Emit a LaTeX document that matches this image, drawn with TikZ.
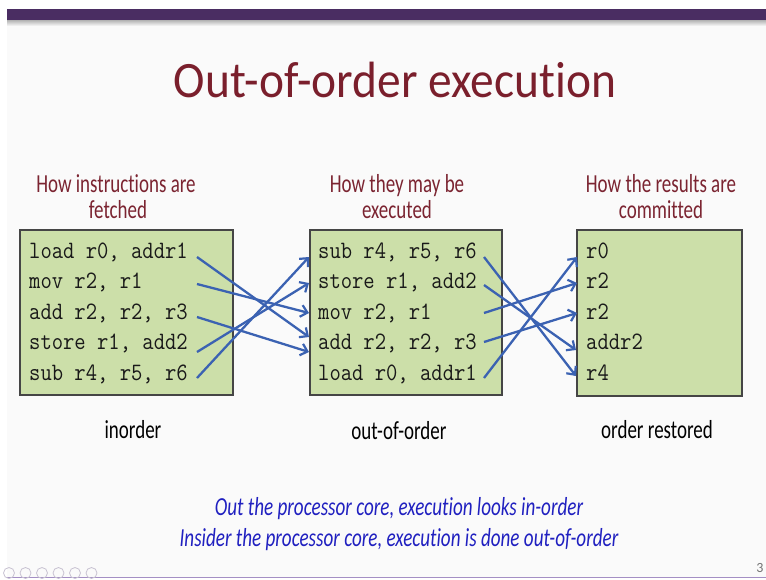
\documentclass[tikz,border=0pt]{standalone}
\usepackage{fontspec}
\setmainfont{Carlito}[RawFeature=-liga, RawFeature=-clig, RawFeature=-calt, RawFeature=-dlig]
\usetikzlibrary{arrows.meta}
\definecolor{barpurple}{HTML}{4A2D62}
\definecolor{slidebg}{HTML}{FAFAFA}
\definecolor{titlered}{HTML}{7A1F2C}
\definecolor{headred}{HTML}{7B2431}
\definecolor{boxgreen}{HTML}{CCDFA9}
\definecolor{boxline}{HTML}{454545}
\definecolor{arrowblue}{HTML}{3B62B2}
\definecolor{noteblue}{HTML}{2020C0}
\definecolor{footline}{HTML}{A48FC4}
\definecolor{navgray}{HTML}{C8C2D2}
\tikzset{
  titletext/.style={text=titlered, font=\fontsize{51}{60}\selectfont, xscale=0.93, inner sep=0, anchor=base},
  headtext/.style={text=headred, font=\fontsize{26}{30}\selectfont, xscale=0.73, inner sep=0, anchor=base},
  labeltext/.style={text=black, font=\fontsize{26}{30}\selectfont, xscale=0.73, inner sep=0, anchor=base},
  notetext/.style={text=noteblue, font=\fontsize{26}{30}\selectfont\itshape, xscale=0.735, inner sep=0, anchor=base},
  codetext/.style={text=black!90, font=\ttfamily\fontsize{25}{28}\selectfont, xscale=0.88, inner sep=0, anchor=base west},
  codebox/.style={draw=boxline, fill=boxgreen, line width=1.1pt},
  flow/.style={draw=arrowblue, line width=2.3pt, -{Straight Barb[length=6.5pt,width=12pt,line width=2.2pt]}},
  navicon/.style={draw=navgray, line width=0.8pt},
}
\begin{document}
\begin{tikzpicture}[x=1pt,y=-1pt]
\useasboundingbox (0,0) rectangle (766,579);
\fill[white] (0,0) rectangle (766,579);
\fill[slidebg] (7,9) rectangle (766,578);
% header bar with its soft shadow
\shade[top color=black!35, bottom color=slidebg] (7,19) rectangle (766,26);
\fill[barpurple] (7,9) rectangle (766,20);

% title
\node[titletext] (title) at (395,97) {Out-of-order execution};

% column headings
\node[headtext] (h1a) at (116,192) {How instructions are};
\node[headtext] (h1b) at (118,218) {fetched};
\node[headtext] (h2a) at (397,192) {How they may be};
\node[headtext] (h2b) at (397,218) {executed};
\node[headtext] (h3a) at (661,192) {How the results are};
\node[headtext] (h3b) at (661,218) {committed};

% the three instruction boxes
\path[codebox] (20,230) rectangle (233,395);
\path[codebox] (310,230) rectangle (502,395);
\path[codebox] (577,230) rectangle (742,396);

% fetched order
\node[codetext] (a1) at (29,258) {load r0, addr1};
\node[codetext] (a2) at (29,288.5) {mov r2, r1};
\node[codetext] (a3) at (29,319) {add r2, r2, r3};
\node[codetext] (a4) at (29,349.5) {store r1, add2};
\node[codetext] (a5) at (29,380) {sub r4, r5, r6};

% executed order
\node[codetext] (b1) at (318,258) {sub r4, r5, r6};
\node[codetext] (b2) at (318,288.5) {store r1, add2};
\node[codetext] (b3) at (318,319) {mov r2, r1};
\node[codetext] (b4) at (318,349.5) {add r2, r2, r3};
\node[codetext] (b5) at (318,380) {load r0, addr1};

% committed results
\node[codetext] (c1) at (586,258) {r0};
\node[codetext] (c2) at (586,288.5) {r2};
\node[codetext] (c3) at (586,319) {r2};
\node[codetext] (c4) at (586,349.5) {addr2};
\node[codetext] (c5) at (586,380) {r4};

% arrow end points
\coordinate (s1) at (197,257);
\coordinate (s2) at (197,284);
\coordinate (s3) at (197,317);
\coordinate (s4) at (197,352);
\coordinate (s5) at (197,378);
\coordinate (t1) at (309,257);
\coordinate (t2) at (309,283);
\coordinate (t3) at (309,313);
\coordinate (t4) at (309,337);
\coordinate (t5) at (309,352);

\coordinate (u1) at (484,257);
\coordinate (u2) at (484,285);
\coordinate (u3) at (484,313);
\coordinate (u4) at (484,342);
\coordinate (u5) at (484,378);
\coordinate (v1) at (577,257);
\coordinate (v2) at (577,283);
\coordinate (v3) at (577,313);
\coordinate (v4) at (576,350);
\coordinate (v5) at (576,376);

% fetch -> execute
\draw[flow] (s1) -- (t4);
\draw[flow] (s2) -- (t3);
\draw[flow] (s3) -- (t5);
\draw[flow] (s4) -- (t2);
\draw[flow] (s5) -- (t1);

% execute -> commit
\draw[flow] (u1) -- (v5);
\draw[flow] (u2) -- (v4);
\draw[flow] (u3) -- (v2);
\draw[flow] (u4) -- (v3);
\draw[flow] (u5) -- (v1);

% captions under the boxes
\node[labeltext] (l1) at (133,438) {inorder};
\node[labeltext] (l2) at (399,439) {out-of-order};
\node[labeltext] (l3) at (657,438) {order restored};

% notes
\node[notetext] (n1) at (399,515) {Out the processor core, execution looks in-order};
\node[notetext] (n2) at (399,546) {Insider the processor core, execution is done out-of-order};

% footer
\draw[footline, line width=1.3pt] (7,577.5) -- (766,577.5);
\foreach \cx in {9,25.5,42,58.5,75,91.5}
  \draw[navicon] (\cx,573) circle (5.5pt);
\node[text=black!55, font=\fontsize{14}{16}\selectfont, inner sep=0, anchor=base] (pg) at (760,572) {3};
\end{tikzpicture}
\end{document}
